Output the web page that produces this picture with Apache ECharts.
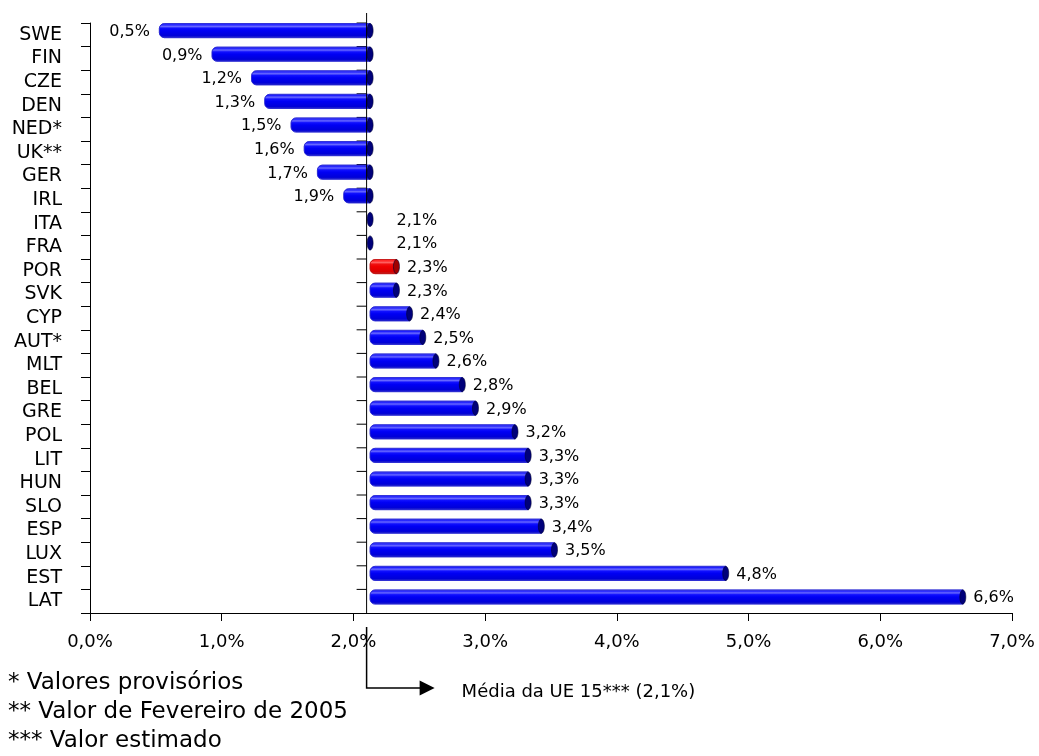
<!DOCTYPE html>
<html><head><meta charset="utf-8">
<script src="https://cdn.jsdelivr.net/npm/echarts/dist/echarts.min.js"></script>
<style>html,body{margin:0;padding:0;background:#fff}#c{width:1039px;height:756px}</style>
</head><body><div id="c"></div>
<script>
const categories = ['SWE','FIN','CZE','DEN','NED*','UK**','GER','IRL','ITA','FRA','POR','SVK','CYP','AUT*','MLT','BEL','GRE','POL','LIT','HUN','SLO','ESP','LUX','EST','LAT'];
const values = [0.5,0.9,1.2,1.3,1.5,1.6,1.7,1.9,2.1,2.1,2.3,2.3,2.4,2.5,2.6,2.8,2.9,3.2,3.3,3.3,3.3,3.4,3.5,4.8,6.6];
const highlighted = ['POR'];
const euAverage = 2.1;
const xMin = 0, xMax = 7, xStep = 1;
const footnotes = ['* Valores provisórios', '** Valor de Fevereiro de 2005', '*** Valor estimado'];
const averageLabel = 'Média da UE 15*** (2,1%)';

const FONT = 'DejaVu Sans';
const fmt = v => v.toFixed(1).replace('.', ',') + '%';
const GRID = {left: 90, right: 27, top: 23, bottom: 143};

function grad(stops) {
  return new echarts.graphic.LinearGradient(0, 0, 0, 1, stops.map((c, i) => ({offset: c[0], color: c[1]})));
}
const blueBody = () => grad([[0,'#7a7aff'],[0.1,'#2020ff'],[0.22,'#6868ff'],[0.34,'#1010ff'],[0.5,'#0000f4'],[0.85,'#0000d8'],[1,'#3a3ac8']]);
const redBody = () => grad([[0,'#ff7070'],[0.1,'#ff2020'],[0.22,'#ff6060'],[0.34,'#f01010'],[0.5,'#ee0000'],[0.85,'#d80000'],[1,'#b03030']]);

function renderItem(params, api) {
  const v = api.value(0), ci = api.value(1);
  const pv = api.coord([v, ci]);
  const pb = api.coord([euAverage, ci]);
  const band = api.size([0, 1])[1];
  const h = band * 0.6;
  const dx = 3.5, dy = -4.2;
  const cy = pv[1] + dy;
  const xv = pv[0] + dx, xb = pb[0] + dx;
  const red = highlighted.indexOf(categories[ci]) >= 0;
  const children = [];
  // tick mark on the average line at the band's upper boundary
  children.push({type: 'line', shape: {x1: pb[0] - 10, y1: pv[1] - band / 2, x2: pb[0], y2: pv[1] - band / 2},
    style: {stroke: '#000', lineWidth: 1}});
  const x0 = Math.min(xv, xb), x1 = Math.max(xv, xb);
  if (x1 - x0 > 0.5) {
    children.push({type: 'rect', shape: {x: x0, y: cy - h / 2, width: x1 - x0, height: h, r: [5, 0, 0, 5]},
      style: {fill: red ? redBody() : blueBody(), stroke: red ? '#c00000' : '#1a1ad0', lineWidth: 0.6}});
  }
  children.push({type: 'ellipse', shape: {cx: x1, cy: cy, rx: 3, ry: h / 2},
    style: {fill: red ? '#a00000' : '#00007a', stroke: '#000030', lineWidth: 0.6}});
  let tx, align;
  if (v >= euAverage) {
    tx = Math.max(pv[0] + 14, pb[0] + 30); align = 'left';
  } else {
    tx = pv[0] - 6; align = 'right';
  }
  children.push({type: 'text', x: tx, y: pv[1] - 3,
    style: {text: fmt(v), fill: '#000', font: '16px "' + FONT + '"', align: align, verticalAlign: 'middle'}});
  return {type: 'group', children: children};
}

const chart = echarts.init(document.getElementById('c'), null, {renderer: 'canvas'});
const option = {
  animation: false,
  backgroundColor: '#fff',
  grid: {left: GRID.left, right: GRID.right, top: GRID.top, bottom: GRID.bottom, containLabel: false},
  xAxis: {
    type: 'value', min: xMin, max: xMax, interval: xStep,
    axisLine: {show: true, lineStyle: {color: '#000', width: 1}},
    axisTick: {show: true, length: 8, lineStyle: {color: '#000'}},
    splitLine: {show: false},
    axisLabel: {formatter: fmt, color: '#000', fontFamily: FONT, fontSize: 18, margin: 20}
  },
  yAxis: {
    type: 'category', data: categories, inverse: true,
    axisLine: {show: true, lineStyle: {color: '#000', width: 1}},
    axisTick: {show: true, length: 9, interval: 0, lineStyle: {color: '#000'}},
    splitLine: {show: false},
    axisLabel: {interval: 0, color: '#000', fontFamily: FONT, fontSize: 19, margin: 28}
  },
  series: [{
    type: 'custom', renderItem: renderItem, clip: false,
    encode: {x: 0, y: 1},
    data: values.map((v, i) => [v, i])
  }]
};
chart.setOption(option);

const px = chart.convertToPixel({xAxisIndex: 0}, euAverage);
const yBottom = 756 - GRID.bottom;
const arrowY = 688;
chart.setOption({
  graphic: [
    {type: 'line', z: 100, shape: {x1: px, y1: GRID.top - 10, x2: px, y2: yBottom}, style: {stroke: '#000', lineWidth: 1}},
    {type: 'polyline', z: 100, shape: {points: [[px, yBottom + 14], [px, arrowY], [px + 54, arrowY]]}, style: {stroke: '#000', lineWidth: 1.5, fill: null}},
    {type: 'polygon', z: 100, shape: {points: [[px + 53, arrowY - 7.5], [px + 68, arrowY], [px + 53, arrowY + 7.5]]}, style: {fill: '#000'}},
    {type: 'text', z: 100, x: px + 95, y: arrowY + 4, style: {text: averageLabel, fill: '#000', font: '18px "' + FONT + '"', verticalAlign: 'middle'}},
    {type: 'text', z: 100, x: 8, y: 683, style: {text: footnotes[0], fill: '#000', font: '23px "' + FONT + '"', verticalAlign: 'middle'}},
    {type: 'text', z: 100, x: 8, y: 712, style: {text: footnotes[1], fill: '#000', font: '23px "' + FONT + '"', verticalAlign: 'middle'}},
    {type: 'text', z: 100, x: 8, y: 741, style: {text: footnotes[2], fill: '#000', font: '23px "' + FONT + '"', verticalAlign: 'middle'}}
  ]
});
</script>
</body></html>
